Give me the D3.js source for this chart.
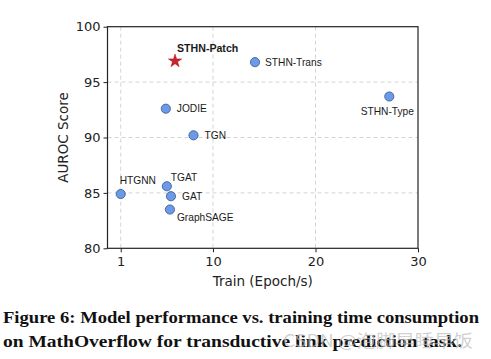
<!DOCTYPE html>
<html><head><meta charset="utf-8">
<script src="https://cdn.jsdelivr.net/npm/d3@7"></script>
<style>html,body{margin:0;padding:0;background:#fff;}svg{display:block;}</style>
</head><body>
<svg id="chart" width="491" height="359"></svg>
<script>
// ---- data ----
const models = ["STHN-Patch","STHN-Trans","STHN-Type","JODIE","TGN","HTGNN","TGAT","GAT","GraphSAGE"];
const trainSpeed = [6.3, 14.1, 27.2, 5.4, 8.1, 1.0, 5.5, 5.9, 5.8];
const aurocScore = [96.9, 96.8, 93.7, 92.6, 90.2, 84.9, 85.6, 84.7, 83.5];
const xTicks = [1, 10, 20, 30];
const yTicks = [80, 85, 90, 95, 100];
const xTitle = "Train (Epoch/s)";
const yTitle = "AUROC Score";
const captionLines = ["Figure 6: Model performance vs. training time consumption",
                      "on MathOverflow for transductive link prediction task."];
const watermark = "CSDN @泡脚早睡早饭";

// ---- label placement (style, not data) ----
const labelStyle = {
  "STHN-Patch": {dx: 2, dy: -13, anchor: "start", bold: true},
  "STHN-Trans": {dx: 10, dy: 0, anchor: "start"},
  "STHN-Type":  {dx: -2, dy: 15, anchor: "middle"},
  "JODIE":      {dx: 11, dy: 0, anchor: "start"},
  "TGN":        {dx: 11, dy: 0, anchor: "start"},
  "HTGNN":      {dx: -1, dy: -14, anchor: "start"},
  "TGAT":       {dx: 4, dy: -9, anchor: "start"},
  "GAT":        {dx: 11, dy: 0, anchor: "start"},
  "GraphSAGE":  {dx: 7, dy: 8, anchor: "start"}
};

const svg = d3.select("#chart");
const L = 107.5, R = 418, T = 26.7, B = 248.3;
const x = d3.scaleLinear().domain([-0.29, 30]).range([L, R]);
const y = d3.scaleLinear().domain([80, 100]).range([B, T]);

// grid
const grid = svg.append("g");
grid.selectAll("line.vx").data(xTicks.filter(d => d < 30)).join("line")
  .attr("x1", d => x(d)).attr("x2", d => x(d)).attr("y1", T).attr("y2", B)
  .attr("stroke", "#cfcfcf").attr("stroke-width", 0.9).attr("stroke-dasharray", "4,3");
grid.selectAll("line.hy").data(yTicks.filter(d => d > 80 && d < 100)).join("line")
  .attr("y1", d => y(d)).attr("y2", d => y(d)).attr("x1", L).attr("x2", R)
  .attr("stroke", "#cfcfcf").attr("stroke-width", 0.9).attr("stroke-dasharray", "4,3");

// frame
svg.append("rect").attr("x", L).attr("y", T).attr("width", R - L).attr("height", B - T)
  .attr("fill", "none").attr("stroke", "#222").attr("stroke-width", 1.2);

// axes
const xAxis = svg.append("g").attr("transform", `translate(0,${B})`)
  .call(d3.axisBottom(x).tickValues(xTicks).tickSize(4).tickPadding(4).tickFormat(d3.format("d")));
const yAxis = svg.append("g").attr("transform", `translate(${L},0)`)
  .call(d3.axisLeft(y).tickValues(yTicks).tickSize(4).tickPadding(3).tickFormat(d3.format("d")));
[xAxis, yAxis].forEach(a => {
  a.select(".domain").remove();
  a.selectAll(".tick line").attr("stroke", "#222").attr("stroke-width", 1);
  a.selectAll(".tick text").attr("fill", "#222")
    .style("font-family", "DejaVu Sans").style("font-size", "13px");
});

// axis titles
svg.append("text").attr("x", (L + R) / 2).attr("y", 286).attr("text-anchor", "middle")
  .style("font-family", "DejaVu Sans").style("font-size", "13.5px").attr("fill", "#222").text(xTitle);
svg.append("text").attr("transform", `translate(68,${(T + B) / 2}) rotate(-90)`).attr("text-anchor", "middle")
  .style("font-family", "DejaVu Sans").style("font-size", "13.5px").attr("fill", "#222").text(yTitle);

// points
const data = models.map((m, i) => ({name: m, xv: trainSpeed[i], yv: aurocScore[i]}));
const pts = svg.append("g");
pts.selectAll("circle").data(data.filter(d => d.name !== "STHN-Patch")).join("circle")
  .attr("cx", d => x(d.xv)).attr("cy", d => y(d.yv)).attr("r", 4.6)
  .attr("fill", "#6c9ae6").attr("stroke", "#34558f").attr("stroke-width", 0.8);
const star = d3.symbol().type(d3.symbolStar).size(55);
pts.selectAll("path").data(data.filter(d => d.name === "STHN-Patch")).join("path")
  .attr("d", star).attr("transform", d => `translate(${x(d.xv)},${y(d.yv)})`)
  .attr("fill", "#c8242c").attr("stroke", "#a01a20").attr("stroke-width", 0.5);

// labels
svg.append("g").selectAll("text").data(data).join("text")
  .attr("x", d => x(d.xv) + labelStyle[d.name].dx)
  .attr("y", d => y(d.yv) + labelStyle[d.name].dy)
  .attr("dy", "0.35em")
  .attr("text-anchor", d => labelStyle[d.name].anchor)
  .style("font-family", "Liberation Sans, Arial, sans-serif")
  .style("font-size", d => labelStyle[d.name].bold ? "10.6px" : "10.2px")
  .style("font-weight", d => labelStyle[d.name].bold ? "bold" : "normal")
  .attr("fill", "#1a1a1a")
  .text(d => d.name);

// caption
const cap = svg.append("g");
cap.append("text").attr("x", 3).attr("y", 323).attr("textLength", 476).attr("lengthAdjust", "spacingAndGlyphs")
  .style("font-family", "Liberation Serif, serif").style("font-weight", "bold").style("font-size", "16.5px")
  .attr("fill", "#111").text(captionLines[0]);
cap.append("text").attr("x", 3).attr("y", 346.5).attr("textLength", 459).attr("lengthAdjust", "spacingAndGlyphs")
  .style("font-family", "Liberation Serif, serif").style("font-weight", "bold").style("font-size", "16.5px")
  .attr("fill", "#111").text(captionLines[1]);
// watermark (overlaps the caption in the reference too)
svg.append("text").attr("x", 283).attr("y", 347).attr("textLength", 190).attr("lengthAdjust", "spacingAndGlyphs")
  .style("font-family", "Noto Sans CJK SC, sans-serif").style("font-size", "17px")
  .attr("fill", "#bdbdbd").attr("fill-opacity", 0.7).text(watermark);
</script>
</body></html>
